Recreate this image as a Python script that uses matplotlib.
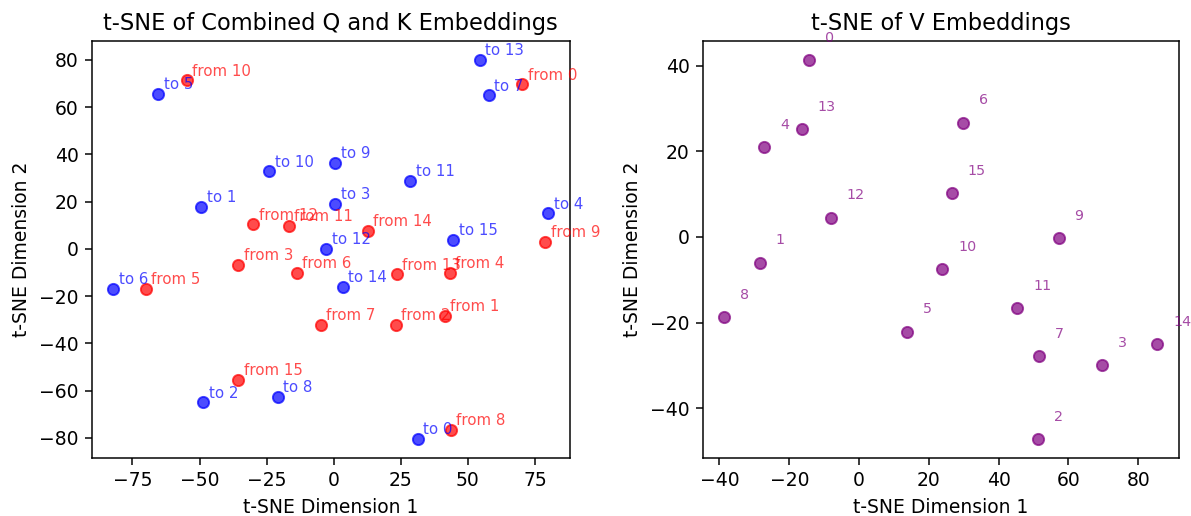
import numpy as np
import matplotlib
matplotlib.use("Agg")
import matplotlib.pyplot as plt
from matplotlib.ticker import MultipleLocator

# t-SNE coordinates, indexed by token 0..15
to_x = [31.3, -49.3, -48.6, 0.6, 79.9, -65.4, -82.1, 57.7,
        -20.9, 0.6, -24.0, 28.6, -2.8, 54.5, 3.4, 44.5]
to_y = [-80.5, 17.9, -65.0, 19.0, 15.0, 65.7, -16.8, 65.0,
        -62.6, 36.3, 32.8, 28.7, 0.0, 79.9, -16.2, 3.9]
from_x = [70.3, 41.3, 23.2, -35.6, 43.3, -70.0, -13.7, -4.8,
          43.7, 78.9, -54.8, -16.8, -30.0, 23.6, 12.6, -35.6]
from_y = [69.6, -28.3, -32.1, -6.8, -10.1, -16.8, -10.3, -32.1,
          -76.7, 3.1, 71.3, 9.8, 10.3, -10.8, 7.7, -55.3]
v_x = [-14.2, -28.5, 51.3, 69.7, -27.1, 13.8, 29.8, 51.7,
       -38.6, 57.2, 23.9, 45.4, -8.0, -16.3, 85.5, 26.6]
v_y = [41.3, -6.0, -47.2, -30.0, 21.0, -22.1, 26.7, -27.8,
       -18.7, -0.3, -7.6, -16.7, 4.5, 25.2, -25.0, 10.2]

DPI = 135
fig = plt.figure(figsize=(1191 / DPI, 516 / DPI), dpi=DPI)
ax1 = fig.add_axes([0.077, 0.1124, 0.4015, 0.808])
ax2 = fig.add_axes([0.590, 0.1124, 0.400, 0.808])

# Left: Q ("from") and K ("to") embeddings
ax1.scatter(to_x, to_y, color="blue", alpha=0.7)
ax1.scatter(from_x, from_y, color="red", alpha=0.7)
for i in range(len(to_x)):
    ax1.text(to_x[i] + 2, to_y[i] + 2, f"to {i}", color="blue", alpha=0.7, fontsize=8)
for i in range(len(from_x)):
    ax1.text(from_x[i] + 2, from_y[i] + 2, f"from {i}", color="red", alpha=0.7, fontsize=8)
ax1.set_title("t-SNE of Combined Q and K Embeddings", fontsize=12)
ax1.set_xlabel("t-SNE Dimension 1", fontsize=10)
ax1.set_ylabel("t-SNE Dimension 2", fontsize=10)
ax1.xaxis.set_major_locator(MultipleLocator(25))
ax1.yaxis.set_major_locator(MultipleLocator(20))

# Right: V embeddings
ax2.scatter(v_x, v_y, color="purple", alpha=0.7)
for i in range(len(v_x)):
    ax2.text(v_x[i] + 4.5, v_y[i] + 4.3, str(i), color="purple", alpha=0.7, fontsize=7.6)
ax2.set_title("t-SNE of V Embeddings", fontsize=12)
ax2.set_xlabel("t-SNE Dimension 1", fontsize=10)
ax2.set_ylabel("t-SNE Dimension 2", fontsize=10)
ax2.xaxis.set_major_locator(MultipleLocator(20))
ax2.yaxis.set_major_locator(MultipleLocator(20))

for ax in (ax1, ax2):
    ax.tick_params(labelsize=10)

fig.savefig("out.png", dpi=DPI)
